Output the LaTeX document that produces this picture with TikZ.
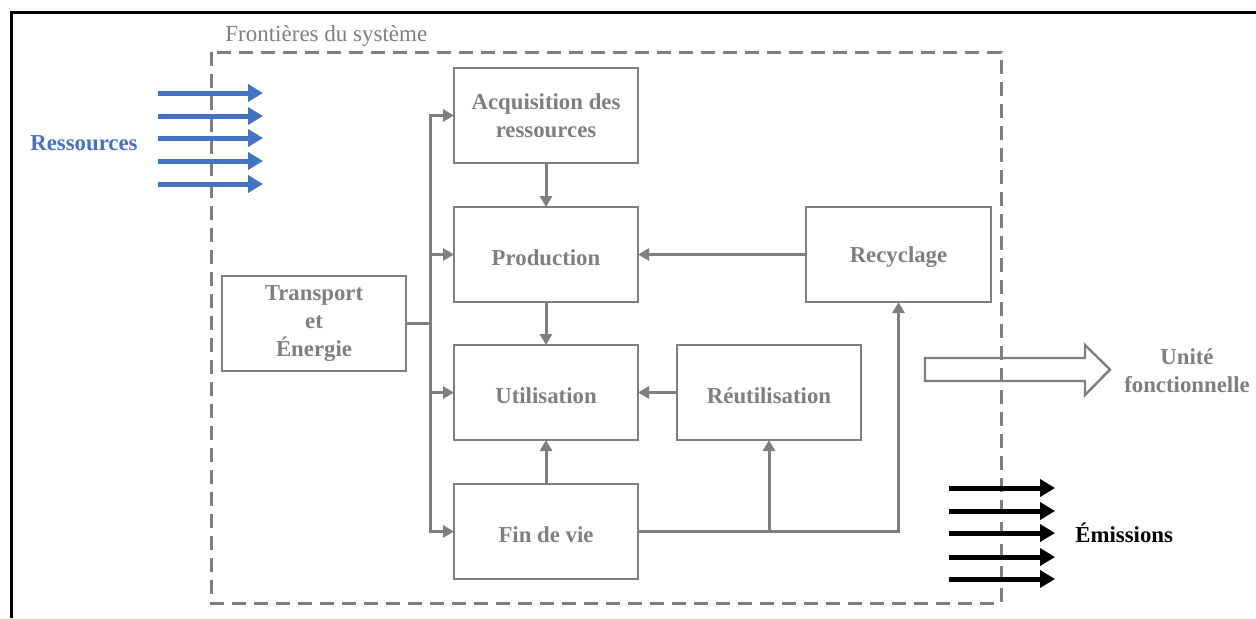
\documentclass[tikz,border=0pt]{standalone}
\usepackage{fontspec}
\setmainfont{Liberation Serif}
\usetikzlibrary{arrows.meta}
\definecolor{grayc}{HTML}{7F7F7F}
\definecolor{bluec}{HTML}{4472C4}
\tikzset{
  box/.style={draw=grayc, line width=1pt, minimum width=92pt, minimum height=47.5pt, inner sep=0pt, outer sep=0pt,
    text=grayc, font=\bfseries\fontsize{11.4}{13.8}\selectfont, align=center,
    execute at begin node={\rule{0pt}{11pt}}},
  conn/.style={draw=grayc, line width=1.5pt, -{Triangle[length=5.5pt,width=6pt]}},
  line/.style={draw=grayc, line width=1.5pt},
  bluearr/.style={draw=bluec, line width=2.5pt, -{Triangle[length=7.5pt,width=8.5pt]}},
  blackarr/.style={draw=black, line width=2.5pt, -{Triangle[length=7.5pt,width=8.5pt]}},
  lbl/.style={font=\bfseries\fontsize{11.4}{14}\selectfont, inner sep=0pt}
}
\begin{document}
\begin{tikzpicture}[x=0.5pt,y=-0.5pt]
\useasboundingbox (0,0) rectangle (1256,618);
% outer frame
\draw[line width=1.5pt] (11,618) -- (11,12) -- (1256,12);
% system boundary
\draw[grayc, line width=1.5pt, dash pattern=on 7pt off 4pt] (211,52) rectangle (1001,603);
\node[anchor=west, text=grayc, font=\fontsize{11.5}{13}\selectfont, inner sep=0pt] (front) at (225,36) {Frontières du système};
% boxes
\node[box] (acq) at (546,115.5) {Acquisition des\\ressources};
\node[box] (prod) at (546,254.5) {Production};
\node[box] (util) at (546,392.5) {Utilisation};
\node[box] (fin) at (546,531.5) {Fin de vie};
\node[box] (trans) at (314,323.5) {Transport\\et\\Énergie};
\node[box] (reut) at (769,392.5) {Réutilisation};
\node[box, minimum width=92.5pt] (recy) at (898.5,254.5) {Recyclage};
% connectors
\draw[line] (trans.east) -- (430,323.5) coordinate (j);
\draw[conn] (j) |- (acq.west);
\draw[conn] (j) |- (prod.west);
\draw[conn] (j) |- (util.west);
\draw[conn] (j) |- (fin.west);
\draw[conn] (acq) -- (prod);
\draw[conn] (prod) -- (util);
\draw[conn] (fin) -- (util);
\draw[conn] (recy) -- (prod);
\draw[conn] (reut) -- (util);
\draw[conn] (fin.east) -| (recy.south);
\draw[conn] (reut.south |- fin.east) -- (reut.south);
% resources
\foreach \y in {93,116,138,161,184} \draw[bluearr] (158,\y) -- (263,\y);
\node[lbl, text=bluec] (res) at (84,143) {Ressources};
% emissions
\foreach \y in {488,511,533,557,579} \draw[blackarr] (949,\y) -- (1055,\y);
\node[lbl, anchor=west] (emi) at (1075,533) {Émissions};
% functional unit
\draw[grayc, line width=1.2pt, line join=miter] (925,358) -- (1085,358) -- (1085,345) -- (1110,369.5) -- (1085,395) -- (1085,381) -- (925,381) -- cycle;
\node[lbl, text=grayc, align=center] (uf) at (1187,371) {Unité\\fonctionnelle};
\end{tikzpicture}
\end{document}
